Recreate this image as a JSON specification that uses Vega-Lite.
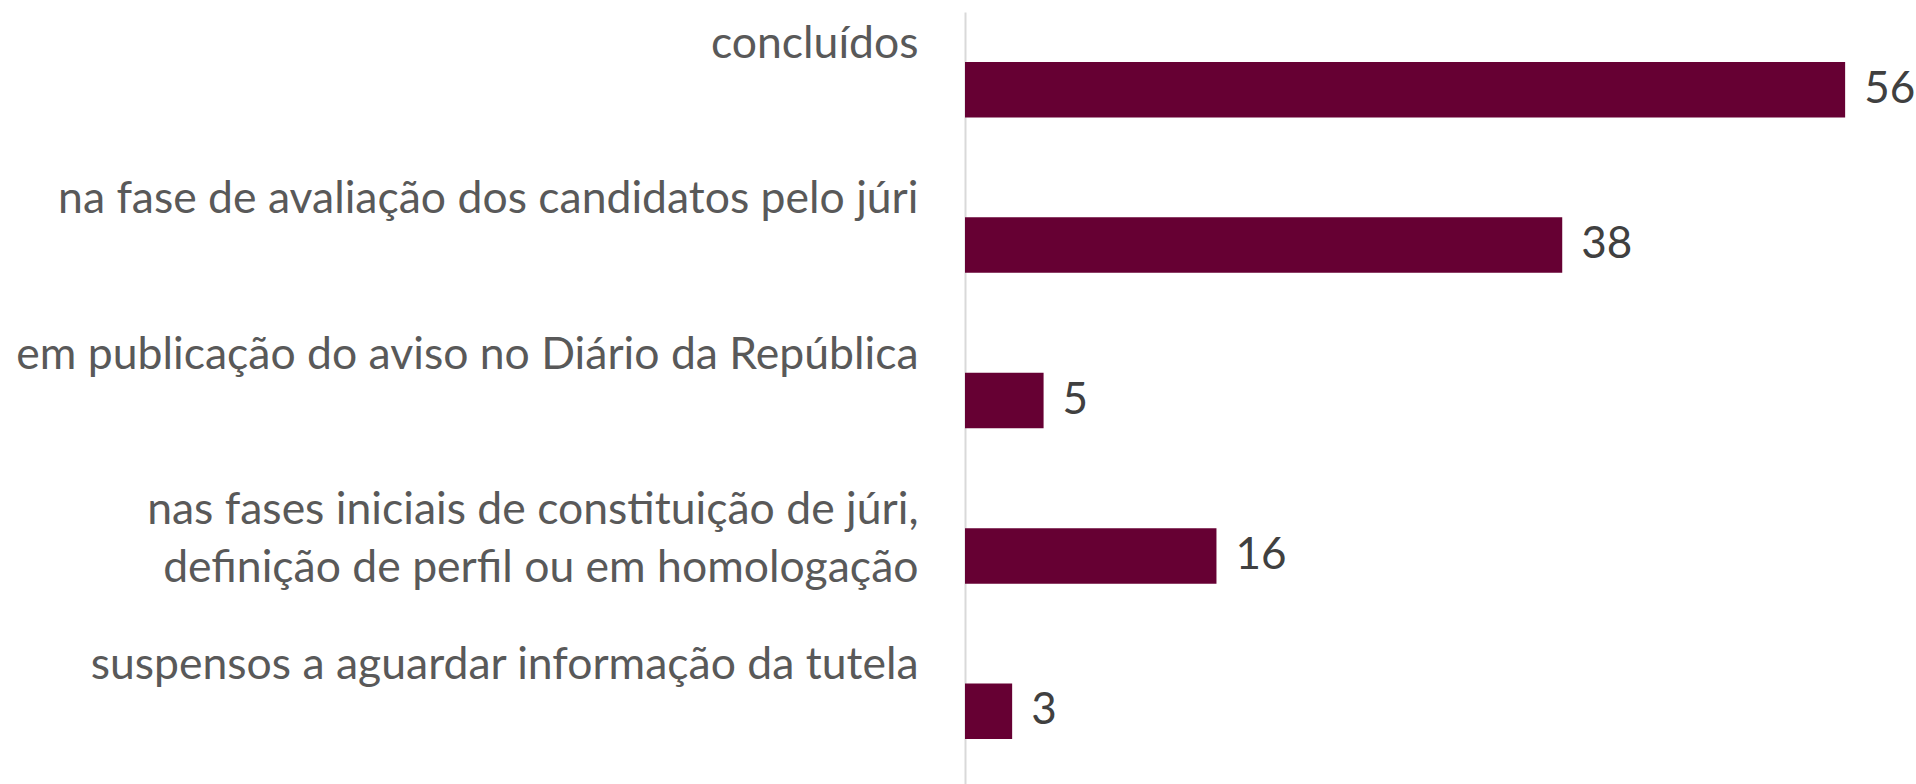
{
  "$schema": "https://vega.github.io/schema/vega-lite/v6.json",
  "autosize": "none",
  "padding": {"left": 965, "top": 12, "right": 8, "bottom": 0},
  "width": 943,
  "height": 777,
  "background": "white",
  "config": {"view": {"stroke": null}},
  "data": {
    "values": [
      {"categoria": "concluídos", "valor": 56},
      {"categoria": "na fase de avaliação dos candidatos pelo júri", "valor": 38},
      {"categoria": "em publicação do aviso no Diário da República", "valor": 5},
      {"categoria": "nas fases iniciais de constituição de júri,|definição de perfil ou em homologação", "valor": 16},
      {"categoria": "suspensos a aguardar informação da tutela", "valor": 3}
    ]
  },
  "encoding": {
    "y": {
      "field": "categoria",
      "type": "nominal",
      "sort": null,
      "scale": {"paddingInner": 0.643, "paddingOuter": 0.3215},
      "axis": {
        "title": null,
        "ticks": false,
        "domain": true,
        "domainColor": "#d9d9d9",
        "domainWidth": 2,
        "labelExpr": "split(datum.label, '|')",
        "labelFont": "Lato",
        "labelFontSize": 44.5,
        "labelColor": "#595959",
        "labelAlign": "right",
        "labelBaseline": "alphabetic",
        "labelOffset": -32,
        "labelPadding": 47,
        "labelLineHeight": 58,
        "labelLimit": 1000
      }
    },
    "x": {
      "field": "valor",
      "type": "quantitative",
      "scale": {"domain": [0, 60]},
      "axis": null
    }
  },
  "layer": [
    {"mark": {"type": "bar", "color": "#660033"}},
    {
      "mark": {
        "type": "text",
        "align": "left",
        "baseline": "middle",
        "dx": 19,
        "font": "Lato",
        "fontSize": 44,
        "color": "#404040"
      },
      "encoding": {"text": {"field": "valor", "type": "quantitative"}}
    }
  ]
}
